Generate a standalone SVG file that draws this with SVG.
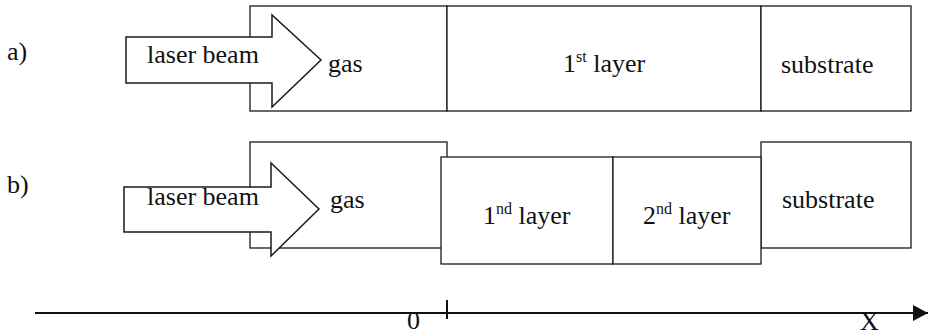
<svg xmlns="http://www.w3.org/2000/svg" width="928" height="336" viewBox="0 0 928 336">
  <style>
    .box { fill: #fff; stroke: #1a1a1a; stroke-width: 1.3; }
    .beam { fill: #fff; stroke: #1a1a1a; stroke-width: 1.5; stroke-linejoin: miter; }
    .lbl { font-family: "Liberation Serif", "Times New Roman", "DejaVu Serif", serif; font-size: 26px; fill: #111; }
    .sup { font-size: 16px; }
    .axis { stroke: #111; stroke-width: 2; fill: none; }
  </style>
  <defs>
    <marker id="axisHead" markerWidth="16" markerHeight="16" refX="15" refY="8" orient="auto" markerUnits="userSpaceOnUse">
      <path d="M0,0 L15,8 L0,16 Z" fill="#111"/>
    </marker>
  </defs>
  <rect width="928" height="336" fill="#fff"/>

  <!-- row a -->
  <text class="lbl" x="7" y="60">a)</text>
  <g id="a-gas">
    <rect class="box" x="250" y="6" width="197" height="105"/>
    <text class="lbl" x="328" y="72">gas</text>
  </g>
  <g id="a-layer1">
    <rect class="box" x="447" y="6" width="314" height="105"/>
    <text class="lbl" x="563" y="72">1<tspan class="sup" dy="-10">st</tspan><tspan dy="10"> layer</tspan></text>
  </g>
  <g id="a-substrate">
    <rect class="box" x="761" y="6" width="150" height="105"/>
    <text class="lbl" x="781" y="73">substrate</text>
  </g>
  <g id="a-beam">
    <polygon class="beam" points="126,37 272,37 272,15 321,60 272,107 272,83 126,83"/>
    <text class="lbl" x="147" y="63">laser beam</text>
  </g>

  <!-- row b -->
  <text class="lbl" x="7" y="193">b)</text>
  <g id="b-gas">
    <rect class="box" x="250" y="142" width="197" height="106"/>
    <text class="lbl" x="330" y="208">gas</text>
  </g>
  <g id="b-substrate">
    <rect class="box" x="761" y="142" width="150" height="106"/>
    <text class="lbl" x="782" y="208">substrate</text>
  </g>
  <g id="b-layer1">
    <rect class="box" x="441" y="157" width="172" height="107"/>
    <text class="lbl" x="483" y="224">1<tspan class="sup" dy="-10">nd</tspan><tspan dy="10"> layer</tspan></text>
  </g>
  <g id="b-layer2">
    <rect class="box" x="613" y="157" width="148" height="107"/>
    <text class="lbl" x="643" y="224">2<tspan class="sup" dy="-10">nd</tspan><tspan dy="10"> layer</tspan></text>
  </g>
  <g id="b-beam">
    <polygon class="beam" points="124,187 271,187 271,163 319,209 271,256 271,232 124,232"/>
    <text class="lbl" x="147" y="205">laser beam</text>
  </g>

  <!-- x axis -->
  <g id="connectors">
    <line class="axis" x1="35" y1="313" x2="928" y2="313" marker-end="url(#axisHead)"/>
    <line class="axis" x1="447" y1="300" x2="447" y2="319" stroke-width="1.5"/>
  </g>
  <text class="lbl" x="407" y="329" font-size="24">0</text>
  <text class="lbl" x="860" y="330" font-size="24">X</text>
</svg>
